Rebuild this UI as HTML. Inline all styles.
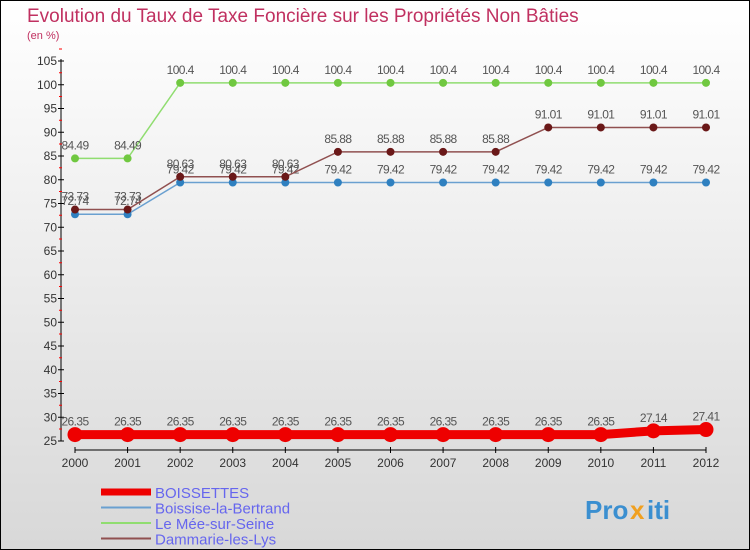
<!DOCTYPE html>
<html><head><meta charset="utf-8"><style>
body{margin:0}
#c{width:750px;height:550px;position:relative;box-sizing:border-box;border:1px solid #000;background:linear-gradient(#fff,#d8d8d8);font-family:"Liberation Sans",sans-serif;overflow:hidden}
</style></head><body>
<div id="c">
<svg id="s" width="748" height="548" xmlns="http://www.w3.org/2000/svg">
<text x="26" y="21" font-size="19" fill="#c03060">Evolution du Taux de Taxe Foncière sur les Propriétés Non Bâties</text>
<text x="26" y="38" font-size="11" fill="#c03060">(en %)</text>
<g id="axes"></g><g id="series"></g>
<g id="legend"></g>
<g font-size="26" font-weight="bold">
<text x="584" y="518" fill="#3b8fd0">Pro</text><text x="629" y="518" fill="#f0a020">x</text><text x="646" y="518" fill="#3b8fd0">iti</text>
</g>
</svg>
</div>
<script>
const years=["2000","2001","2002","2003","2004","2005","2006","2007","2008","2009","2010","2011","2012"];
const boissettes=[26.35,26.35,26.35,26.35,26.35,26.35,26.35,26.35,26.35,26.35,26.35,27.14,27.41];
const boissise=[72.74,72.74,79.42,79.42,79.42,79.42,79.42,79.42,79.42,79.42,79.42,79.42,79.42];
const mee=[84.49,84.49,100.4,100.4,100.4,100.4,100.4,100.4,100.4,100.4,100.4,100.4,100.4];
const dammarie=[73.73,73.73,80.63,80.63,80.63,85.88,85.88,85.88,85.88,91.01,91.01,91.01,91.01];
const yTicks=[25,30,35,40,45,50,55,60,65,70,75,80,85,90,95,100,105];
const NS="http://www.w3.org/2000/svg";
const xs=i=>74+i*(705-74)/(years.length-1);
const ys=v=>440-(v-25)*(380/80);
function mk(tag,a,p){const e=document.createElementNS(NS,tag);for(const k in a)e.setAttribute(k,a[k]);p.appendChild(e);return e;}
const ax=document.getElementById('axes');
let l=mk('line',{x1:60,y1:58,x2:60,y2:440,stroke:'#000'},ax);


l=mk('line',{x1:74,y1:449,x2:705,y2:449,stroke:'#000'},ax);


yTicks.forEach(v=>{const y=ys(v);
 mk('line',{x1:57,x2:63,y1:y,y2:y,stroke:'#000'},ax);
 mk('line',{x1:58,x2:61,y1:y-12,y2:y-12,stroke:'#f00'},ax);
 const t=mk('text',{x:56,y:y+4,'font-size':12,'text-anchor':'end',fill:'#333'},ax);t.textContent=v;
 
 });
years.forEach((yr,i)=>{const x=xs(i);
 mk('line',{x1:x,x2:x,y1:446,y2:452,stroke:'#000'},ax);
 const t=mk('text',{x:x,y:466,'font-size':12,'text-anchor':'middle',fill:'#333'},ax);t.textContent=yr;
 
 });
const sg=document.getElementById('series');
const series=[
 {name:'Boissise-la-Bertrand',d:boissise,c:'#6aa0d0',pc:'#2f80c0',w:1.5,r:4,id:'boissise'},
 {name:'Le Mée-sur-Seine',d:mee,c:'#90dd70',pc:'#70c840',w:1.5,r:4,id:'mee'},
 {name:'Dammarie-les-Lys',d:dammarie,c:'#905050',pc:'#6a1818',w:1.5,r:4,id:'dammarie'},
 {name:'BOISSETTES',d:boissettes,c:'#ee0000',pc:'#ee0000',w:9,r:7.5,id:'boissettes'}];
series.forEach(s=>{
 const g=mk('g',{},sg);
 
 
 const p=mk('polyline',{points:s.d.map((v,i)=>xs(i)+','+ys(v)).join(' '),fill:'none',stroke:s.c,'stroke-width':s.w},g);
 
 
 s.d.forEach((v,i)=>{
  const c=mk('circle',{cx:xs(i),cy:ys(v),r:s.r,fill:s.pc},g);
  
  
  const t=mk('text',{x:xs(i),y:ys(v)-9,'font-size':12,'text-anchor':'middle',fill:'#555','letter-spacing':'-0.6'},g);
  t.textContent=String(v);
  
  
 });
});
const lg=document.getElementById('legend');
const leg=[['BOISSETTES','#ee0000',7],['Boissise-la-Bertrand','#6aa0d0',2],['Le Mée-sur-Seine','#90dd70',2],['Dammarie-les-Lys','#905050',2]];
leg.forEach((e,i)=>{const y=491+i*15.5;
 const ln=mk('line',{x1:100,x2:150,y1:y,y2:y,stroke:e[1],'stroke-width':e[2]},lg);
 
 
 const t=mk('text',{x:154,y:y+6,'font-size':15,fill:'#6666ee'},lg);t.textContent=e[0];
 
 });
</script>
</body></html>
